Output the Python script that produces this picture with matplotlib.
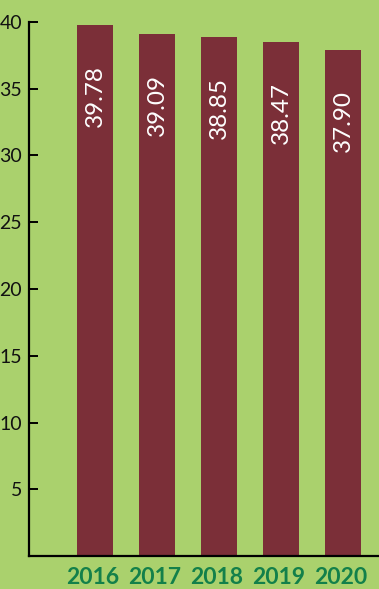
import matplotlib
matplotlib.use("Agg")
import matplotlib.pyplot as plt
import matplotlib.transforms as mtransforms

years = ["2016", "2017", "2018", "2019", "2020"]
values = [39.78, 39.09, 38.85, 38.47, 37.90]
value_labels = ["39.78", "39.09", "38.85", "38.47", "37.90"]
y_ticks = [0, 5, 10, 15, 20, 25, 30, 35, 40]
y_tick_labels = ["", "5", "10", "15", "20", "25", "30", "35", "40"]

BG = "#aad16d"
BAR = "#7b2f38"
GREEN = "#13804a"

plt.rcParams["font.family"] = ["Lato", "DejaVu Sans"]

fig = plt.figure(figsize=(3.79, 5.89), dpi=100, facecolor=BG)
ax = fig.add_axes([29 / 379, 33 / 589, 1 - 29 / 379, 534 / 589])
ax.set_facecolor(BG)

x = list(range(len(years)))
bars = ax.bar(x, values, width=0.58, color=BAR, zorder=2)

# value labels written vertically inside the top of each bar
for rect, lab in zip(bars, value_labels):
    ax.annotate(lab, (rect.get_x() + rect.get_width() / 2, rect.get_height()),
                xytext=(0, -40), textcoords="offset pixels",
                rotation=90, ha="center", va="top", color="white", fontsize=17.5)

ax.set_xlim(-1.065, 4.58)
ax.set_ylim(0, 40)
ax.set_yticks(y_ticks)
ax.set_yticklabels(y_tick_labels, fontsize=14, color="#111111")
ax.set_xticks(x)
ax.set_xticklabels(years, fontsize=16.5, fontweight="bold", color=GREEN)
ax.tick_params(axis="y", direction="in", length=6.5, width=1.4, pad=5)
ax.tick_params(axis="x", length=0, pad=8)

shift = mtransforms.ScaledTranslation(-2 / 100, 0, fig.dpi_scale_trans)
for t in ax.get_xticklabels():
    t.set_transform(t.get_transform() + shift)

for side in ["top", "right"]:
    ax.spines[side].set_visible(False)
for side in ["left", "bottom"]:
    ax.spines[side].set_linewidth(1.6)
    ax.spines[side].set_color("black")

fig.savefig("out.png", dpi=100, facecolor=BG)
